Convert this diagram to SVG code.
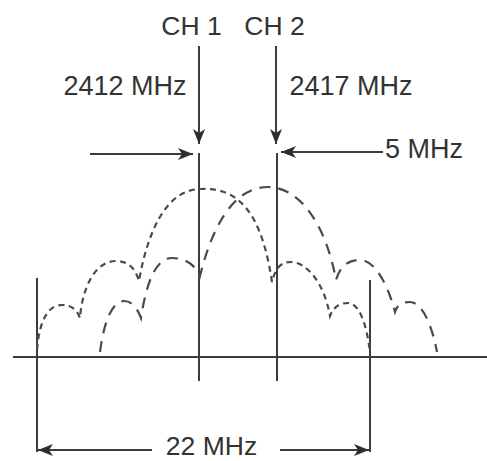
<svg xmlns="http://www.w3.org/2000/svg" width="487" height="461" viewBox="0 0 487 461">
<style>
.ln{stroke:#3c3c3c;stroke-width:2;fill:none}
.ar{stroke:#3c3c3c;stroke-width:2;fill:none;marker-end:url(#ah)}
.s1{stroke:#4a4a4a;stroke-width:2.2;fill:none;stroke-dasharray:6 4.5}
.s2{stroke:#4a4a4a;stroke-width:2.2;fill:none;stroke-dasharray:11 8}
text{font-family:"Liberation Sans",Arial,sans-serif;font-size:27px;fill:#333;text-anchor:middle}
</style>
<defs>
<marker id="ah" markerUnits="userSpaceOnUse" markerWidth="16" markerHeight="12" refX="15" refY="6" orient="auto">
<path d="M0,0 L15,6 L0,12 L4,6 z" fill="#2e2e2e"/>
</marker>
</defs>
<rect width="487" height="461" fill="#fff"/>
<g id="axes">
<line class="ln" x1="13" y1="357" x2="487" y2="357"/>
<line class="ln" x1="37" y1="278" x2="37" y2="452"/>
<line class="ln" x1="370" y1="280" x2="370" y2="452"/>
</g>
<g id="ch1">
<text x="191.5" y="35" style="font-size:26.5px">CH 1</text>
<text x="125" y="95">2412 MHz</text>
<line class="ln" x1="199" y1="153" x2="199" y2="381"/>
<path id="spec1" class="s1" d="M37,350 C39,325 46,305 62,305 C72,305 77,310 80,318 C82,290 94,261 116,261 C128,261 135,268 139,281 C147,235 165,189 201,189 C240,187 262,215 272,282 C276,266 282,262 291,262 C306,262 324,282 330,316 C334,306 340,303 348,303 C358,303 366,320 370,352"/>
</g>
<g id="ch2">
<text x="274.5" y="35" style="font-size:26.5px">CH 2</text>
<text x="351" y="95">2417 MHz</text>
<line class="ln" x1="277" y1="153" x2="277" y2="381"/>
<path id="spec2" class="s2" d="M100,352 C104,320 113,301 124,301 C132,301 137,308 141,318 C146,285 155,258 172,258 C186,258 196,266 200,276 C210,235 230,187 268,187 C300,187 326,225 336,280 C340,266 348,260 360,260 C375,260 388,285 395,312 C398,303 403,302 410,302 C422,302 432,325 437,352"/>
</g>
<g id="spacing">
<text x="424" y="158">5 MHz</text>
</g>
<g id="bandwidth">
<text x="211.5" y="455" style="font-size:26.5px">22 MHz</text>
</g>
<g id="connectors">
<line class="ar" x1="199" y1="46" x2="199" y2="144"/>
<line class="ar" x1="276" y1="46" x2="276" y2="144"/>
<line class="ar" x1="90" y1="154" x2="193" y2="154"/>
<line class="ar" x1="383" y1="152" x2="281" y2="152"/>
<line class="ar" x1="152" y1="450" x2="38" y2="450"/>
<line class="ar" x1="280" y1="450" x2="369" y2="450"/>
</g>
</svg>
